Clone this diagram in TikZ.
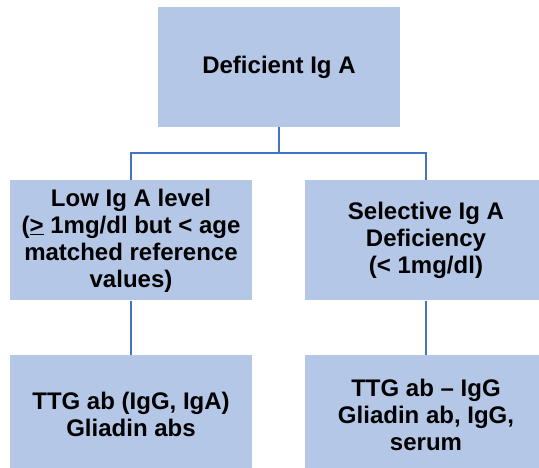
\documentclass[tikz,border=0pt]{standalone}
\usepackage{fontspec}
\setmainfont{Liberation Sans}
\usepackage{xcolor}
\definecolor{boxFill}{HTML}{B4C7E7}
\definecolor{lineBlue}{HTML}{4472C4}
\usepackage{tikz}
\usetikzlibrary{positioning}
\tikzset{%
  levelBox/.style={%
    rectangle,
    fill=boxFill,
    minimum width=242pt,
    minimum height=120pt,
    inner sep=0pt,
    align=center,
    font=\fontsize{24}{27}\selectfont\bfseries
  },
  treeLine/.style={%
    line width=1.5pt,
    color=lineBlue
  }
}

\begin{document}
\begin{tikzpicture}
  \useasboundingbox (0,0) rectangle (539pt,-468pt);
  \clip (0,0) rectangle (539pt,-468pt);

  \node[levelBox] (deficient) at (279pt,-67pt) {Deficient Ig A};
  \node[levelBox, below=53pt of deficient, xshift=-148pt] (lowlevel)
    {Low Ig A level\\(\underline{>} 1mg/dl but < age\\matched reference\\values)};
  \node[levelBox, below=53pt of deficient, xshift=147pt] (selective)
    {Selective Ig A\\Deficiency\\(< 1mg/dl)};

  \node[levelBox, below=54pt of lowlevel] (ttgboth) {TTG ab (IgG, IgA)\\Gliadin abs};
  \node[levelBox, below=54pt of selective] (ttgigg) {TTG ab – IgG\\Gliadin ab, IgG,\\serum};

  \draw[treeLine] (deficient.south) -- ++(0,-26pt) -| (lowlevel.north);
  \draw[treeLine] (deficient.south) -- ++(0,-26pt) -| (selective.north);
  \draw[treeLine] (lowlevel) -- (ttgboth);
  \draw[treeLine] (selective) -- (ttgigg);
\end{tikzpicture}
\end{document}
